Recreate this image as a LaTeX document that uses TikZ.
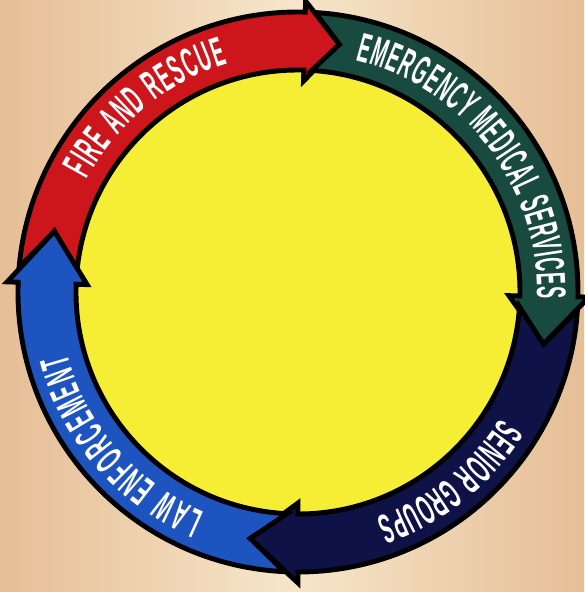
\documentclass[tikz,border=0pt]{standalone}
\usepackage{fontspec}
\newfontfamily\ringfont[FakeStretch=0.44, Scale=2.35]{Liberation Sans}
\newcommand\ringtextfont{\ringfont\bfseries}
\usetikzlibrary{decorations.text}

\definecolor{firered}{RGB}{204,22,28}
\definecolor{emsgreen}{RGB}{24,74,64}
\definecolor{seniornavy}{RGB}{14,18,70}
\definecolor{lawblue}{RGB}{30,84,192}
\definecolor{hubyellow}{RGB}{246,238,52}
\definecolor{bgcream}{RGB}{246,230,202}
\definecolor{bgtan}{RGB}{230,190,150}

\begin{document}
\begin{tikzpicture}[
    scale=0.02,           % 1 unit = 1 px of the reference
    ring/.style = {
        draw = black, line width = 2.8pt, line join = miter
    },
    ringtext/.style = {
        decorate, decoration = {
            text along path, text align = {fit to path},
            text color = white, text = {|\ringtextfont|#1}
        }
    }
]

% --- Background and hub ---
\useasboundingbox (-298,-300) rectangle (286,292);
\shade[left color=bgtan, right color=bgtan, middle color=bgcream]
    (-298,-300) rectangle (286,292);
\fill[hubyellow] (0,0) circle[radius=226];

% --- Ring arrows: colour / tail / head base / tip / tip of previous ---
\foreach \col/\a/\b/\t/\p in {firered/178/88.5/80.5/166,
                              emsgreen/88.5/-1/-12/80.5,
                              seniornavy/-1/-90/-101/-12,
                              lawblue/-90/-182/-194/-101}{
    \pgfmathsetmacro{\notch}{\a-0.256*(\a-\p)}
    \filldraw[ring, fill=\col]
        (\notch:280) arc[start angle=\notch, end angle=\b, radius=280]
        -- (\b:291) -- (\t:251) -- (\b:211) -- (\b:222)
        arc[start angle=\b, end angle=\notch, radius=222]
        -- (\p:251) -- cycle;
}

% --- Labels along the ring ---
\path[ringtext={FIRE AND RESCUE}]
    (152:239) arc[start angle=152, end angle=107, radius=239];
\path[ringtext={EMERGENCY MEDICAL SERVICES}]
    (76:239) arc[start angle=76, end angle=-1.5, radius=239];
\path[ringtext={SENIOR GROUPS}]
    (-32:239) arc[start angle=-32, end angle=-71, radius=239];
\path[ringtext={LAW ENFORCEMENT}]
    (-113:239) arc[start angle=-113, end angle=-165, radius=239];

\end{tikzpicture}
\end{document}
